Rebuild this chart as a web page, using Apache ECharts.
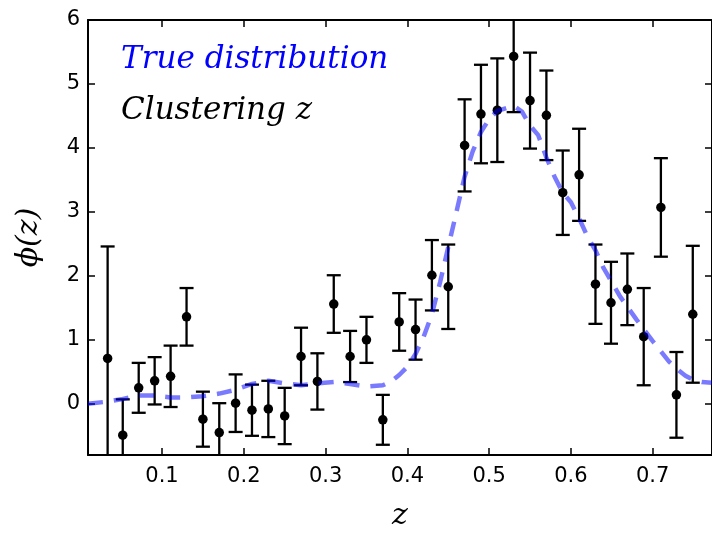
<!DOCTYPE html>
<html>
<head>
<meta charset="utf-8">
<script src="https://cdn.jsdelivr.net/npm/echarts@6/dist/echarts.min.js"></script>
<style>html,body{margin:0;padding:0;background:#fff;}#c{width:712px;height:536px;}</style>
</head>
<body>
<div id="c"></div>
<script>
// Measured points (Clustering z)
const zVals = [0.0335, 0.052, 0.0715, 0.091, 0.1105, 0.130, 0.150, 0.170, 0.190, 0.210, 0.230, 0.250, 0.270, 0.290, 0.310, 0.330, 0.350, 0.370, 0.390, 0.410, 0.430, 0.450, 0.470, 0.490, 0.510, 0.530, 0.550, 0.570, 0.590, 0.610, 0.630, 0.649, 0.669, 0.689, 0.710, 0.729, 0.749];
const phiVals = [0.71, -0.49, 0.25, 0.36, 0.43, 1.36, -0.24, -0.45, 0.01, -0.10, -0.08, -0.19, 0.74, 0.35, 1.56, 0.74, 1.00, -0.25, 1.28, 1.16, 2.01, 1.83, 4.04, 4.53, 4.59, 5.43, 4.74, 4.51, 3.30, 3.58, 1.87, 1.58, 1.79, 1.05, 3.07, 0.14, 1.40];
const errVals = [1.75, 0.56, 0.39, 0.37, 0.48, 0.45, 0.43, 0.46, 0.45, 0.40, 0.44, 0.44, 0.45, 0.44, 0.45, 0.40, 0.36, 0.39, 0.45, 0.47, 0.55, 0.66, 0.72, 0.77, 0.81, 0.87, 0.75, 0.70, 0.66, 0.72, 0.62, 0.64, 0.56, 0.76, 0.77, 0.67, 1.07];

// True distribution curve
const trueZ = [0.0095, 0.03, 0.05, 0.07, 0.09, 0.11, 0.13, 0.15, 0.17, 0.19, 0.21, 0.23, 0.25, 0.27, 0.29, 0.31, 0.33, 0.35, 0.37, 0.38, 0.39, 0.40, 0.41, 0.42, 0.43, 0.44, 0.45, 0.46, 0.47, 0.48, 0.49, 0.50, 0.51, 0.52, 0.53, 0.54, 0.55, 0.56, 0.57, 0.58, 0.59, 0.60, 0.61, 0.62, 0.63, 0.64, 0.65, 0.66, 0.67, 0.68, 0.69, 0.70, 0.71, 0.72, 0.73, 0.74, 0.75, 0.76, 0.7725];
const truePhi = [0.00, 0.03, 0.07, 0.13, 0.13, 0.10, 0.10, 0.12, 0.16, 0.22, 0.31, 0.36, 0.32, 0.29, 0.32, 0.34, 0.31, 0.27, 0.29, 0.35, 0.45, 0.58, 0.78, 1.05, 1.40, 1.90, 2.45, 3.00, 3.55, 3.95, 4.25, 4.45, 4.58, 4.62, 4.66, 4.57, 4.35, 4.20, 3.85, 3.55, 3.30, 3.15, 2.90, 2.62, 2.40, 2.12, 1.90, 1.68, 1.50, 1.32, 1.15, 0.98, 0.82, 0.66, 0.54, 0.44, 0.37, 0.34, 0.33];

const xMin = 0.0095, xMax = 0.7725, yMin = -0.8, yMax = 6;

const pts = zVals.map((z, i) => [z, phiVals[i], errVals[i]]);
const curve = trueZ.map((z, i) => [z, truePhi[i]]);

const chart = echarts.init(document.getElementById('c'), null, {renderer: 'canvas'});

const tickFont = {fontFamily: 'DejaVu Sans', fontSize: 21, color: '#000'};
const serifIt = {fontFamily: 'DejaVu Serif', fontStyle: 'italic'};

function axisCommon() {
  return {
    axisLine: {show: true, onZero: false, lineStyle: {color: '#000', width: 2}},
    axisTick: {show: true, inside: true, length: 7, lineStyle: {color: '#000', width: 1.5}},
    splitLine: {show: false}
  };
}

chart.setOption({
  animation: false,
  backgroundColor: '#fff',
  grid: {left: 88, top: 20, right: -2, bottom: 81, containLabel: false},
  xAxis: [
    Object.assign(axisCommon(), {
      type: 'value', min: xMin, max: xMax, splitNumber: 8, position: 'bottom',
      axisLabel: Object.assign({show: true, margin: 11, showMinLabel: false, showMaxLabel: false,
        formatter: v => v.toFixed(1)}, tickFont),
      name: 'z', nameLocation: 'middle', nameGap: 46,
      nameTextStyle: Object.assign({fontSize: 30, color: '#000'}, serifIt)
    }),
    Object.assign(axisCommon(), {
      type: 'value', min: xMin, max: xMax, splitNumber: 8, position: 'top',
      axisLabel: {show: false}
    })
  ],
  yAxis: [
    Object.assign(axisCommon(), {
      type: 'value', min: yMin, max: yMax, splitNumber: 7, position: 'left',
      axisLabel: Object.assign({show: true, margin: 8, showMinLabel: false, showMaxLabel: true}, tickFont),
      name: 'ϕ(z)', nameLocation: 'middle', nameGap: 44, nameRotate: 90,
      nameTextStyle: Object.assign({fontSize: 30, color: '#000'}, serifIt)
    }),
    Object.assign(axisCommon(), {
      type: 'value', min: yMin, max: yMax, splitNumber: 7, position: 'right',
      axisLabel: {show: false}
    })
  ],
  series: [
    {
      type: 'custom',
      clip: true,
      z: 2,
      data: pts,
      renderItem: function (params, api) {
        const x = api.value(0), y = api.value(1), e = api.value(2);
        const top = api.coord([x, y + e]);
        const bot = api.coord([x, y - e]);
        const hw = 7;
        const st = {stroke: '#000', lineWidth: 2.3};
        return {
          type: 'group',
          children: [
            {type: 'line', shape: {x1: top[0], y1: top[1], x2: bot[0], y2: bot[1]}, style: st},
            {type: 'line', shape: {x1: top[0] - hw, y1: top[1], x2: top[0] + hw, y2: top[1]}, style: st},
            {type: 'line', shape: {x1: bot[0] - hw, y1: bot[1], x2: bot[0] + hw, y2: bot[1]}, style: st}
          ]
        };
      }
    },
    {
      type: 'scatter',
      data: pts.map(p => [p[0], p[1]]),
      symbol: 'circle',
      symbolSize: 9.5,
      itemStyle: {color: '#000', opacity: 1},
      z: 3,
      clip: true
    },
    {
      type: 'line',
      data: curve,
      showSymbol: false,
      smooth: false,
      clip: true,
      z: 4,
      lineStyle: {color: 'rgba(0,0,255,0.52)', width: 4.5, type: [15, 11], cap: 'butt'}
    }
  ],
  graphic: [
    {type: 'text', left: 121, top: 44, style: Object.assign({text: 'True distribution', fontSize: 31, fill: '#0000ff'}, serifIt)},
    {type: 'text', left: 121, top: 95, style: Object.assign({text: 'Clustering z', fontSize: 31, fill: '#000'}, serifIt)}
  ]
});
</script>
</body>
</html>
